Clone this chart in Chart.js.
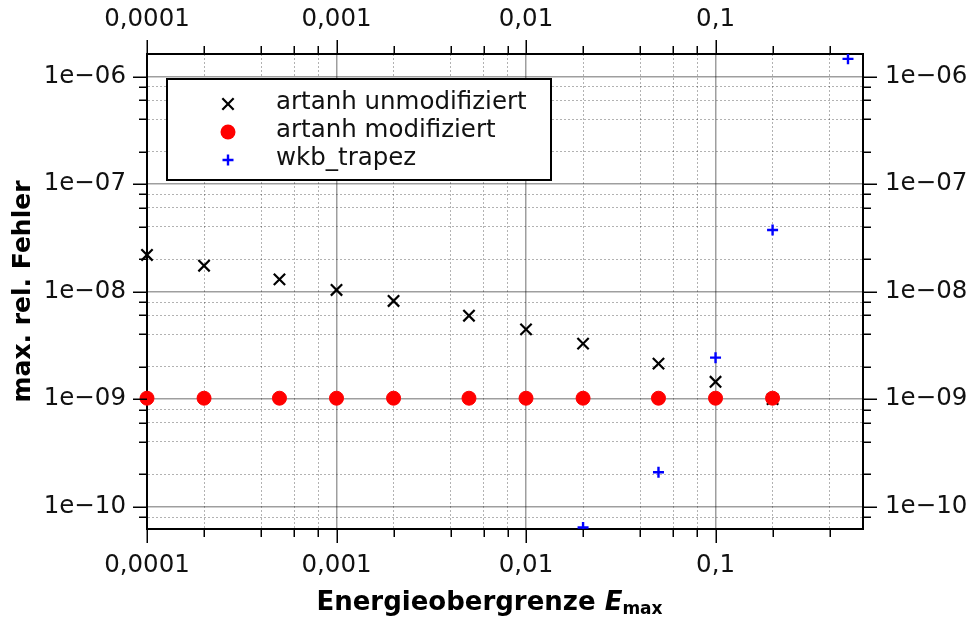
<!DOCTYPE html>
<html>
<head>
<meta charset="utf-8">
<script src="https://cdn.jsdelivr.net/npm/chart.js"></script>
<style>
html, body { margin: 0; padding: 0; background: #ffffff; }
canvas { display: block; }
</style>
</head>
<body>
<canvas id="chart" width="973" height="619"></canvas>
<script>
// ---- data ----
const energies = [1e-4, 2e-4, 5e-4, 1e-3, 2e-3, 5e-3, 1e-2, 2e-2, 5e-2, 0.1, 0.2];
const artanhUnmodifiziert = [2.19e-8, 1.74e-8, 1.30e-8, 1.035e-8, 8.18e-9, 5.97e-9, 4.46e-9, 3.28e-9, 2.14e-9, 1.45e-9, 1.0e-9];
const artanhModifiziert = [1.02e-9, 1.02e-9, 1.02e-9, 1.02e-9, 1.02e-9, 1.02e-9, 1.02e-9, 1.02e-9, 1.02e-9, 1.02e-9, 1.02e-9];
const wkbEnergies = [0.02, 0.05, 0.1, 0.2, 0.5];
const wkbTrapez = [6.4e-11, 2.09e-10, 2.43e-9, 3.74e-8, 1.46e-6];

const seriesLabels = ['artanh unmodifiziert', 'artanh modifiziert', 'wkb_trapez'];

// ---- axes ----
const xMajorTicks = [1e-4, 1e-3, 1e-2, 1e-1];
const xTickLabels = ['0,0001', '0,001', '0,01', '0,1'];
const xMinorTicks = [2e-4, 4e-4, 6e-4, 8e-4, 2e-3, 4e-3, 6e-3, 8e-3, 2e-2, 4e-2, 6e-2, 8e-2, 0.2, 0.4];
const yMajorTicks = [1e-10, 1e-9, 1e-8, 1e-7, 1e-6];
const yTickLabels = ['1e\u221210', '1e\u221209', '1e\u221208', '1e\u221207', '1e\u221206'];
const yMinorTicks = [8e-11, 2e-10, 4e-10, 6e-10, 8e-10, 2e-9, 4e-9, 6e-9, 8e-9, 2e-8, 4e-8, 6e-8, 8e-8, 2e-7, 4e-7, 6e-7, 8e-7];
const xRange = [1e-4, 0.6];
const yRange = [6.2e-11, 1.62e-6];

const xTitleParts = ['Energieobergrenze ', 'E', 'max'];
const yTitle = 'max. rel. Fehler';

// ---- styles ----
const FONT = 'DejaVu Sans';
Chart.defaults.font.family = FONT;

function buildTicks(majors, minors) {
  return majors.map(v => ({ value: v, major: true }))
    .concat(minors.map(v => ({ value: v, major: false })))
    .sort((a, b) => a.value - b.value);
}

function logScale(axis, position, majors, minors, labels, range, primary, pad, size) {
  return {
    type: 'logarithmic',
    axis: axis,
    position: position,
    min: range[0],
    max: range[1],
    afterBuildTicks: s => { s.ticks = buildTicks(majors, minors); },
    afterFit: s => { if (axis === 'y') { s.width = size; } else { s.height = size; } },
    grid: {
      display: true,
      drawOnChartArea: primary,
      drawTicks: false,
      color: c => (c.tick && c.tick.major) ? 'rgba(0,0,0,0.38)' : 'rgba(0,0,0,0.30)',
      lineWidth: c => (c.tick && c.tick.major) ? 1.5 : 1
    },
    border: {
      display: true,
      color: '#000000',
      width: 2,
      dash: c => (c.tick && !c.tick.major) ? [2, 2] : []
    },
    ticks: {
      autoSkip: false,
      maxRotation: 0,
      minRotation: 0,
      padding: pad,
      color: '#111111',
      font: { family: FONT, size: 24.5 },
      callback: function (value, index, ticks) {
        const t = ticks[index];
        if (!t || !t.major) return '';
        const i = majors.indexOf(t.value);
        return i >= 0 ? labels[i] : '';
      }
    },
    title: { display: false }
  };
}

const scaleX = logScale('x', 'bottom', xMajorTicks, xMinorTicks, xTickLabels, xRange, true, 22, 90);
const scaleX2 = logScale('x', 'top', xMajorTicks, xMinorTicks, xTickLabels, xRange, false, 20, 54);
const scaleY = logScale('y', 'left', yMajorTicks, yMinorTicks, yTickLabels, yRange, true, 21, 147);
const scaleY2 = logScale('y', 'right', yMajorTicks, yMinorTicks, yTickLabels, yRange, false, 22, 110);
scaleY.title = {
  display: true,
  text: yTitle,
  color: '#000000',
  font: { family: FONT, size: 25, weight: 'bold' },
  padding: { top: 8, bottom: 0 }
};

// ---- plugins ----
function drawMarker(ctx, style, x, y, r, color, lw) {
  ctx.save();
  ctx.strokeStyle = color;
  ctx.fillStyle = color;
  ctx.lineWidth = lw;
  ctx.beginPath();
  if (style === 'circle') {
    ctx.arc(x, y, r, 0, Math.PI * 2);
    ctx.fill();
  } else if (style === 'crossRot') {
    const d = r * Math.SQRT1_2;
    ctx.moveTo(x - d, y - d); ctx.lineTo(x + d, y + d);
    ctx.moveTo(x + d, y - d); ctx.lineTo(x - d, y + d);
    ctx.stroke();
  } else {
    ctx.moveTo(x - r, y); ctx.lineTo(x + r, y);
    ctx.moveTo(x, y - r); ctx.lineTo(x, y + r);
    ctx.stroke();
  }
  ctx.restore();
}

const tickMarks = {
  id: 'tickMarks',
  afterDraw(chart) {
    const ctx = chart.ctx;
    ctx.save();
    ctx.strokeStyle = '#000000';
    ctx.lineWidth = 1.5;
    ['x', 'x2', 'y', 'y2'].forEach(id => {
      const s = chart.scales[id];
      s.ticks.forEach(t => {
        const len = t.major ? 14 : 8;
        const p = Math.round(s.getPixelForValue(t.value)) + 0.25;
        ctx.beginPath();
        if (s.position === 'bottom') { ctx.moveTo(p, s.top); ctx.lineTo(p, s.top + len); }
        else if (s.position === 'top') { ctx.moveTo(p, s.bottom); ctx.lineTo(p, s.bottom - len); }
        else if (s.position === 'left') { ctx.moveTo(s.right, p); ctx.lineTo(s.right - len, p); }
        else { ctx.moveTo(s.left, p); ctx.lineTo(s.left + len, p); }
        ctx.stroke();
      });
    });
    ctx.restore();
  }
};

const boxLegend = {
  id: 'boxLegend',
  afterDraw(chart) {
    const ctx = chart.ctx;
    const ca = chart.chartArea;
    const bx = ca.left + 20, by = ca.top + 25, bw = 384, bh = 101;
    ctx.save();
    ctx.fillStyle = '#ffffff';
    ctx.fillRect(bx, by, bw, bh);
    ctx.strokeStyle = '#000000';
    ctx.lineWidth = 2;
    ctx.strokeRect(bx, by, bw, bh);
    ctx.font = '24.5px "' + FONT + '"';
    ctx.textBaseline = 'middle';
    ctx.textAlign = 'left';
    chart.data.datasets.forEach((ds, i) => {
      const cy = by + 25 + i * 28;
      drawMarker(ctx, ds.pointStyle, bx + 61, cy, ds.legendRadius, ds.borderColor, ds.pointBorderWidth || 2);
      ctx.fillStyle = '#111111';
      ctx.fillText(ds.label, bx + 109, cy - 1);
    });
    ctx.restore();
  }
};

const xTitlePlugin = {
  id: 'xTitlePlugin',
  afterDraw(chart) {
    const ctx = chart.ctx;
    const fonts = ['bold 26px "' + FONT + '"', 'italic bold 26px "' + FONT + '"', 'bold 17px "' + FONT + '"'];
    const dy = [0, 0, 4];
    ctx.save();
    const widths = xTitleParts.map((t, i) => { ctx.font = fonts[i]; return ctx.measureText(t).width; });
    const total = widths.reduce((a, b) => a + b, 0);
    let x = chart.width / 2 + 3 - total / 2;
    const base = chart.chartArea.bottom + 81;
    ctx.fillStyle = '#000000';
    ctx.textBaseline = 'alphabetic';
    ctx.textAlign = 'left';
    xTitleParts.forEach((t, i) => {
      ctx.font = fonts[i];
      ctx.fillText(t, x, base + dy[i]);
      x += widths[i];
    });
    ctx.restore();
  }
};

// ---- chart ----
new Chart(document.getElementById('chart'), {
  type: 'scatter',
  data: {
    datasets: [
      {
        label: seriesLabels[0],
        data: energies.map((e, i) => ({ x: e, y: artanhUnmodifiziert[i] })),
        pointStyle: 'crossRot',
        pointRadius: 8,
        pointHoverRadius: 8,
        pointBorderWidth: 2.2,
        borderColor: '#000000',
        backgroundColor: '#000000',
        legendRadius: 8,
        order: 2,
        clip: false
      },
      {
        label: seriesLabels[1],
        data: energies.map((e, i) => ({ x: e, y: artanhModifiziert[i] })),
        pointStyle: 'circle',
        pointRadius: 7,
        pointHoverRadius: 7,
        pointBorderWidth: 1,
        borderColor: '#ff0000',
        backgroundColor: '#ff0000',
        legendRadius: 7.5,
        order: 1,
        clip: false
      },
      {
        label: seriesLabels[2],
        data: wkbEnergies.map((e, i) => ({ x: e, y: wkbTrapez[i] })),
        pointStyle: 'cross',
        pointRadius: 5.5,
        pointHoverRadius: 5.5,
        pointBorderWidth: 2.4,
        borderColor: '#0000ff',
        backgroundColor: '#0000ff',
        legendRadius: 5.5,
        order: 0,
        clip: 0
      }
    ]
  },
  options: {
    responsive: false,
    maintainAspectRatio: false,
    devicePixelRatio: 1,
    animation: false,
    layout: { padding: 0 },
    plugins: {
      legend: { display: false },
      tooltip: { enabled: false },
      title: { display: false }
    },
    scales: { x: scaleX, x2: scaleX2, y: scaleY, y2: scaleY2 }
  },
  plugins: [tickMarks, boxLegend, xTitlePlugin]
});
</script>
</body>
</html>
